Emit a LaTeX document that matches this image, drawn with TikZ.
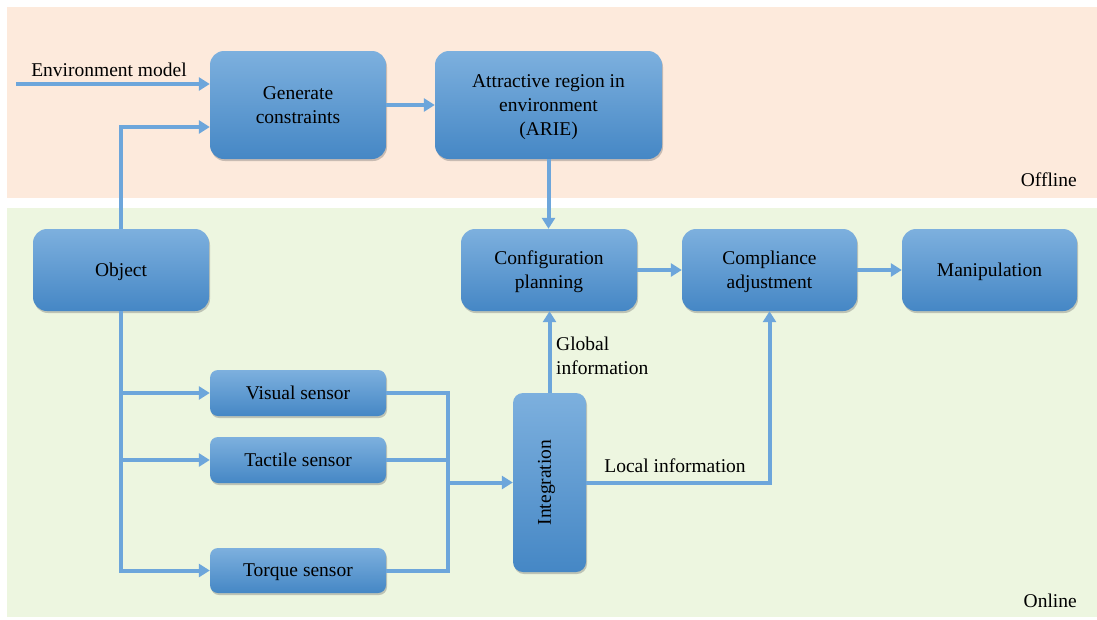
\documentclass[tikz,border=0pt]{standalone}
\usepackage{fontspec}
\setmainfont{Liberation Serif}
\usetikzlibrary{arrows.meta,shadows,calc}
\definecolor{peach}{HTML}{FDEADC}
\definecolor{mint}{HTML}{EDF6E0}
\definecolor{boxtop}{HTML}{7DB0DE}
\definecolor{boxbot}{HTML}{4587C5}
\definecolor{wire}{HTML}{6DA6DB}
\tikzset{
  box/.style={draw=none, top color=boxtop, bottom color=boxbot, rounded corners=14pt,
    align=center, inner sep=0pt, text depth=0pt, font=\fontsize{19.5}{24}\selectfont,
    drop shadow={shadow xshift=1pt, shadow yshift=-2pt, opacity=0.35, fill=black!60}},
  sbox/.style={box, rounded corners=8pt},
  wireline/.style={draw=wire, line width=4pt},
  arr/.style={wireline, -{Triangle[length=11pt,width=13pt]}},
  lbl/.style={font=\fontsize{19.5}{24}\selectfont, inner sep=0pt}
}
\begin{document}
\begin{tikzpicture}[x=1pt,y=-1pt]
\useasboundingbox (0,0) rectangle (1097,619);
\fill[white] (0,0) rectangle (1097,619);
\fill[peach] (7,7) rectangle (1097,198);
\fill[mint] (7,208) rectangle (1097,617);

\node[box, minimum width=176pt, minimum height=108pt] (gen) at (298,105) {Generate\\constraints};
\node[box, minimum width=227pt, minimum height=108pt] (arie) at (548.5,105) {Attractive region in\\environment\\(ARIE)};
\node[box, minimum width=176pt, minimum height=82pt] (obj) at (121,270) {Object};
\node[box, minimum width=176pt, minimum height=82pt] (conf) at (549,270) {Configuration\\planning};
\node[box, minimum width=175pt, minimum height=82pt] (comp) at (769.5,270) {Compliance\\adjustment};
\node[box, minimum width=175pt, minimum height=82pt] (manip) at (989.5,270) {Manipulation};
\node[sbox, minimum width=176pt, minimum height=46pt] (vis) at (298,393) {Visual sensor};
\node[sbox, minimum width=176pt, minimum height=46pt] (tac) at (298,460) {Tactile sensor};
\node[sbox, minimum width=176pt, minimum height=45pt] (tor) at (298,570.5) {Torque sensor};
\node[sbox, rounded corners=10pt, minimum width=73pt, minimum height=179pt] (integ) at (549.5,482.5) {};
\node[lbl, rotate=90] (integt) at ([xshift=-3pt]integ.center) {Integration};

\coordinate (envin) at (16,84);
\coordinate (merge) at (448,482.5);

\draw[arr] (envin) -- (envin -| gen.west);
\node[lbl] (envl) at (109,70) {Environment model};
\draw[arr] (obj.north) |- ([yshift=-22pt]gen.west);
\draw[arr] (gen.east) -- (arie.west);
\draw[arr] (arie.south) -- (arie.south |- conf.north);
\draw[arr] (conf.east) -- (comp.west);
\draw[arr] (comp.east) -- (manip.west);

\draw[arr] (obj.south) |- (vis.west);
\draw[arr] (obj.south) |- (tac.west);
\draw[arr] (obj.south) |- (tor.west);

\draw[wireline] (vis.east) -| (merge);
\draw[wireline] (tac.east) -| (merge);
\draw[wireline] (tor.east) -| (merge);
\draw[arr] (merge) -- (integ.west);

\draw[arr] (integ.north) -- (integ.north |- conf.south);
\node[lbl, anchor=west, align=left] (glob) at (556,356) {Global\\information};
\draw[arr] (integ.east) -| (comp.south);
\node[lbl] (loc) at (675,466) {Local information};

\node[lbl, anchor=east] (off) at (1077,180) {Offline};
\node[lbl, anchor=east] (on) at (1077,601) {Online};
\end{tikzpicture}
\end{document}
